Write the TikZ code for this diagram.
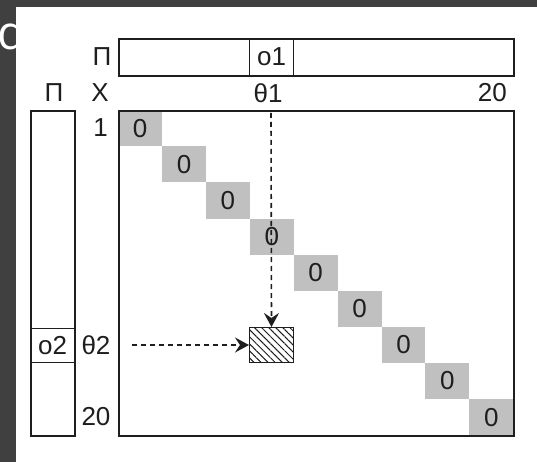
\documentclass[tikz,border=0pt]{standalone}
\usepackage{fontspec}
\setmainfont{Liberation Sans}
\newfontfamily\dfont{Open Sans}
\usetikzlibrary{patterns.meta,arrows.meta}
\definecolor{framegray}{HTML}{404040}
\definecolor{cellgray}{HTML}{C0C0C0}
\definecolor{ink}{HTML}{1E1E1E}
\begin{document}
\begin{tikzpicture}[x=1pt,y=-1pt,
  lbl/.style={font=\fontsize{26}{26}\selectfont, text=ink, inner sep=0pt},
  box/.style={draw=ink, line width=1.6pt, inner sep=0pt, anchor=north west},
  cellbox/.style={fill=cellgray, minimum width=43.9pt, minimum height=36.1pt, inner sep=0pt, anchor=north west, font=\fontsize{26}{26}\selectfont, text=ink},
  dasharrow/.style={draw=ink, line width=1.6pt, dash pattern=on 5pt off 4pt, -{Stealth[length=14pt,width=15pt,inset=5pt]}}
]
\useasboundingbox (0,0) rectangle (537,462);
\fill[white] (0,0) rectangle (537,462);
% dark frame
\fill[framegray] (0,0) rectangle (537,7);
\fill[framegray] (0,0) rectangle (16,462);
\begin{scope}
  \clip (0,7) rectangle (16,462);
  \node[text=white, font=\dfont\fontsize{47}{47}\selectfont, anchor=base east, inner sep=0pt] (dglyph) at (27,50) {d};
\end{scope}

% diagonal cells
\foreach \i in {0,...,8}{
  \pgfmathsetmacro{\cx}{118+\i*43.89}
  \pgfmathsetmacro{\cy}{110+\i*36.11}
  \node[cellbox] (c\i) at (\cx,\cy) {0};
}

% matrix frame
\node[box, minimum width=395pt, minimum height=325pt] (mat) at (118,110) {};

% top bar
\node[box, minimum width=395pt, minimum height=37pt] (topbar) at (118,38) {};
\node[box, line width=1.3pt, minimum width=44pt, minimum height=37pt, font=\fontsize{26}{26}\selectfont, text=ink] (o1cell) at (249,38) {o1};

% left bar
\node[box, minimum width=44pt, minimum height=325pt] (leftbar) at (30,110) {};
\node[box, line width=1.3pt, minimum width=44pt, minimum height=34pt, font=\fontsize{26}{26}\selectfont, text=ink] (o2cell) at (30,328) {o2};

% labels
\node[lbl] (piTop) at (102,57) {Π};
\node[lbl] (piLeft) at (54,93) {Π};
\node[lbl] (xlab) at (100,93) {X};
\node[lbl] (th1) at (268,93) {θ1};
\node[lbl, anchor=east] (n20top) at (507,93) {20};
\node[lbl, anchor=east] (n1) at (108,128) {1};
\node[lbl] (th2) at (96,345) {θ2};
\node[lbl] (n20left) at (96,417) {20};

% hatched target
\node[draw=ink, line width=1.6pt, minimum width=44pt, minimum height=35pt, inner sep=0pt, anchor=north west,
      pattern={Lines[angle=-45,distance=5pt,line width=1pt]}, pattern color=ink] (hatch) at (249,327) {};

% dashed arrows
\coordinate (vstart) at (271,113);
\coordinate (hstart) at (132,345);
\draw[dasharrow] (vstart) -- (hatch.north);
\draw[dasharrow] (hstart) -- (hatch.west);
\end{tikzpicture}
\end{document}
